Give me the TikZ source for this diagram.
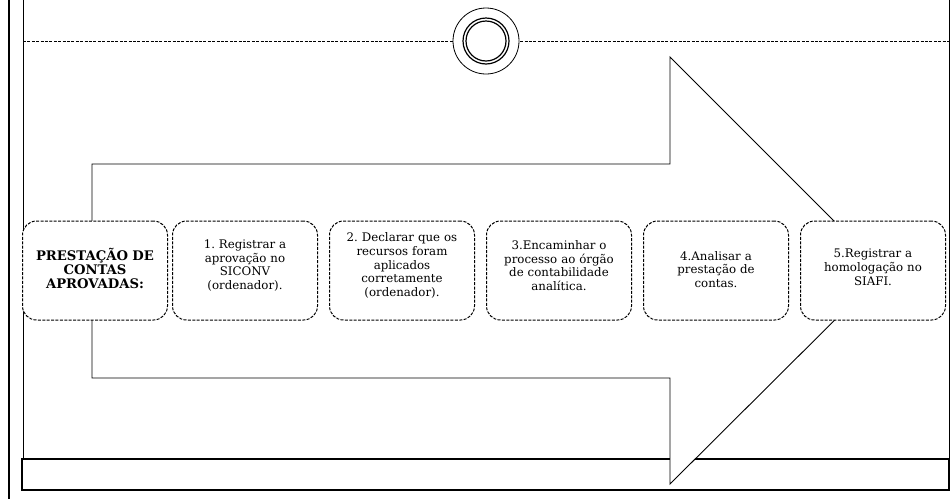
\documentclass[tikz,border=0pt]{standalone}
\usepackage{fontspec}
\setmainfont{DejaVu Serif}
\frenchspacing
\begin{document}
\begin{tikzpicture}[x=1pt,y=-1pt,
  stepbox/.style={draw=black, fill=white, rounded corners=14pt, line width=1pt,
    dash pattern=on 3pt off 1.4pt, minimum width=145pt, minimum height=99pt,
    inner sep=0pt},
  steptext/.style={align=center, inner sep=0pt, text width=140pt,
    font=\fontsize{11.8}{13.8}\selectfont},
  titlefont/.style={font=\bfseries\fontsize{13.2}{13.8}\selectfont},
  frame/.style={draw=black, line width=0.8pt},
  bigarrow/.style={draw=black, fill=white, line width=0.9pt, line join=miter}]
\useasboundingbox (0,0) rectangle (951,499);

% outer rule on the left
\draw[line width=2.2pt] (9,0) -- (9,499);

% page frame
\draw[frame] (23,0) -- (23,459);
\draw[frame] (949,0) -- (949,459);

% dashed separator with the ring marker
\draw[line width=0.9pt, dash pattern=on 3pt off 1.4pt] (23,41) -- (949,41);
\node[circle, draw, fill=white, line width=0.8pt, minimum size=66pt, inner sep=0pt] (ring) at (486,41) {};
\node[circle, draw, line width=1.2pt, minimum size=46pt, inner sep=0pt] (ringa) at (ring.center) {};
\node[circle, draw, line width=1.2pt, minimum size=40pt, inner sep=0pt] (ringb) at (ring.center) {};

% footer strip
\draw[line width=1.4pt] (22,459) rectangle (949,490);

% large process arrow
\coordinate (ta) at (92,164);
\coordinate (tb) at (670,164);
\coordinate (tc) at (670,57);
\coordinate (tip) at (884,271);
\coordinate (bc) at (670,484);
\coordinate (bb) at (670,378);
\coordinate (ba) at (92,378);
\draw[bigarrow] (ta) -- (tb) -- (tc) -- (tip) -- (bc) -- (bb) -- (ba) -- cycle;

% step boxes
\node[stepbox] (s0) at (95,270.5) {};
\node[stepbox] (s1) at (245,270.5) {};
\node[stepbox] (s2) at (402,270.5) {};
\node[stepbox] (s3) at (559,270.5) {};
\node[stepbox] (s4) at (716,270.5) {};
\node[stepbox] (s5) at (873,270.5) {};

% step texts
\node[steptext, titlefont] (t0) at ([yshift=2pt]s0.center) {PRESTAÇÃO DE\\CONTAS\\APROVADAS:};
\node[steptext] (t1) at ([yshift=5pt]s1.center) {1. Registrar a\\aprovação no\\SICONV\\(ordenador).};
\node[steptext] (t2) at ([yshift=5pt]s2.center) {2. Declarar que os\\recursos foram\\aplicados\\corretamente\\(ordenador).};
\node[steptext] (t3) at ([yshift=5pt]s3.center) {3.Encaminhar o\\processo ao órgão\\de contabilidade\\analítica.};
\node[steptext] (t4) at ([yshift=1pt]s4.center) {4.Analisar a\\prestação de\\contas.};
\node[steptext] (t5) at ([yshift=3pt]s5.center) {5.Registrar a\\homologação no\\SIAFI.};
\end{tikzpicture}
\end{document}
